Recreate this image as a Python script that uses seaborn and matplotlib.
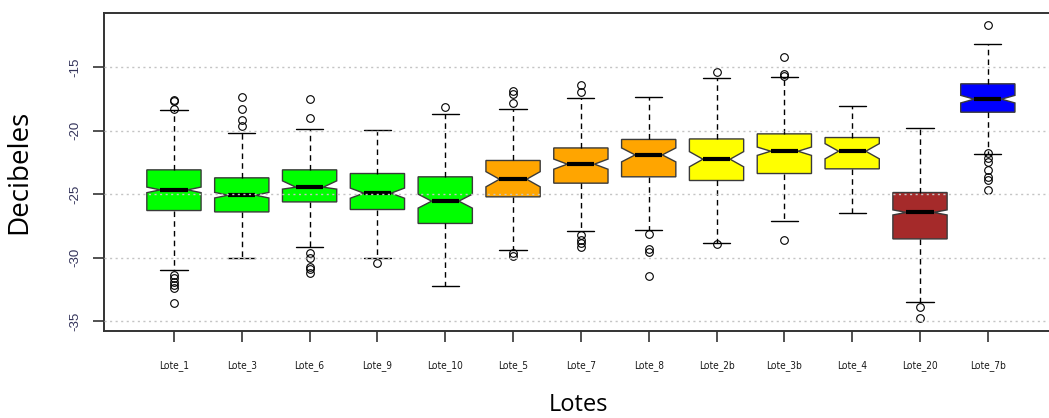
import matplotlib
matplotlib.use("Agg")
import matplotlib.pyplot as plt
from matplotlib import font_manager
import seaborn as sns

# Noise level per batch (dB): box-plot summaries
lotes = ["Lote_1", "Lote_3", "Lote_6", "Lote_9", "Lote_10", "Lote_5", "Lote_7",
         "Lote_8", "Lote_2b", "Lote_3b", "Lote_4", "Lote_20", "Lote_7b"]
q1 = [-26.29, -26.40, -25.61, -26.21, -27.31, -25.21, -24.13,
      -23.63, -23.92, -23.37, -23.00, -28.53, -18.53]
medians = [-24.66, -25.08, -24.45, -24.92, -25.55, -23.82, -22.63,
           -21.90, -22.24, -21.61, -21.61, -26.44, -17.50]
q3 = [-23.08, -23.71, -23.08, -23.37, -23.63, -22.34, -21.35,
      -20.68, -20.64, -20.24, -20.53, -24.87, -16.29]
whisker_low = [-31.02, -30.05, -29.13, -30.05, -32.26, -29.42, -27.94,
               -27.84, -28.84, -27.11, -26.47, -33.52, -21.82]
whisker_high = [-18.39, -20.16, -19.87, -19.95, -18.69, -18.24, -17.40,
                -17.32, -15.84, -15.77, -18.05, -19.79, -13.18]
notch_low = [-24.88, -25.30, -24.60, -25.32, -26.10, -24.42, -23.03,
             -22.45, -22.84, -21.94, -22.21, -26.64, -17.80]
notch_high = [-24.44, -24.86, -23.95, -24.52, -25.00, -23.22, -22.23,
              -21.35, -21.64, -21.28, -21.01, -26.24, -17.20]
outliers = [
    [-17.60, -17.65, -18.24, -31.40, -31.60, -31.90, -32.20, -32.40, -33.55],
    [-17.32, -18.24, -19.16, -19.63],
    [-17.50, -18.98, -29.68, -30.00, -30.74, -30.94, -31.26],
    [-30.47],
    [-18.13],
    [-16.85, -17.11, -17.79, -29.68, -29.89],
    [-16.40, -16.97, -28.24, -28.63, -28.89, -29.16],
    [-28.16, -29.29, -29.60, -31.42],
    [-15.37, -28.95],
    [-14.21, -15.53, -15.66, -28.65],
    [],
    [-33.89, -34.81],
    [-11.64, -21.74, -22.18, -22.45, -23.11, -23.68, -23.89, -24.66],
]
y_ticks = [-15, -20, -25, -30, -35]

box_colors = ["#00FF00"] * 5 + ["#FFA500"] * 3 + ["#FFFF00"] * 3 + ["#A52A2A", "#0000FF"]

sns.set_style("ticks")
plt.rcParams["font.family"] = ["Liberation Sans", "DejaVu Sans"]

# condensed face for the category labels
installed = {f.name for f in font_manager.fontManager.ttflist}
if "Liberation Sans Narrow" in installed:
    narrow = dict(family="Liberation Sans Narrow", fontsize=7.8)
else:
    narrow = dict(family="DejaVu Sans", fontstretch="condensed", fontsize=7.3)

fig = plt.figure(figsize=(10.49, 4.18), dpi=100)
ax = fig.add_axes([0.0991, 0.2081, 0.9040, 0.7608])

stats = []
for i, name in enumerate(lotes):
    stats.append(dict(label=name, q1=q1[i], med=medians[i], q3=q3[i],
                      whislo=whisker_low[i], whishi=whisker_high[i],
                      cilo=notch_low[i], cihi=notch_high[i],
                      fliers=outliers[i]))

positions = list(range(len(lotes)))
res = ax.bxp(stats, positions=positions, widths=0.8, shownotches=True,
             patch_artist=True,
             boxprops=dict(edgecolor="#3a3a3a", linewidth=1.0),
             medianprops=dict(color="black", linewidth=3.0, solid_capstyle="butt"),
             whiskerprops=dict(color="black", linestyle=(0, (4, 3)), linewidth=1.0),
             capprops=dict(color="black", linewidth=1.0),
             flierprops=dict(marker="o", markerfacecolor="none",
                             markeredgecolor="black", markersize=5.5,
                             markeredgewidth=0.8))
for patch, col in zip(res["boxes"], box_colors):
    patch.set_facecolor(col)

ax.set_xlim(-1.032, 12.95)
ax.set_ylim(-35.8, -10.7)

ax.set_axisbelow(False)
ax.yaxis.grid(True, linestyle=(0, (1.5, 2.5)), color="#c4c4c4", linewidth=1.0)
ax.xaxis.grid(False)

ax.set_yticks(y_ticks)
ax.set_yticklabels([str(v) for v in y_ticks], rotation=90, va="center",
                   fontsize=9.5, color="#33335a")
ax.set_xticks(positions)
ax.set_xticklabels(lotes, color="#1a1a1a", **narrow)

ax.tick_params(axis="x", length=8, width=1.2, color="#333333", pad=13)
ax.tick_params(axis="y", length=8, width=1.2, color="#333333", pad=8)

for side in ["left", "bottom", "top", "right"]:
    ax.spines[side].set_color("#333333")
    ax.spines[side].set_linewidth(1.4)

ax.set_ylabel("Decibeles", fontsize=20, family=["Open Sans", "DejaVu Sans"],
              labelpad=26, color="black")
ax.set_xlabel("Lotes", fontsize=17, family=["Open Sans", "DejaVu Sans"],
              labelpad=16, color="black")

fig.savefig("out.png", dpi=100)
